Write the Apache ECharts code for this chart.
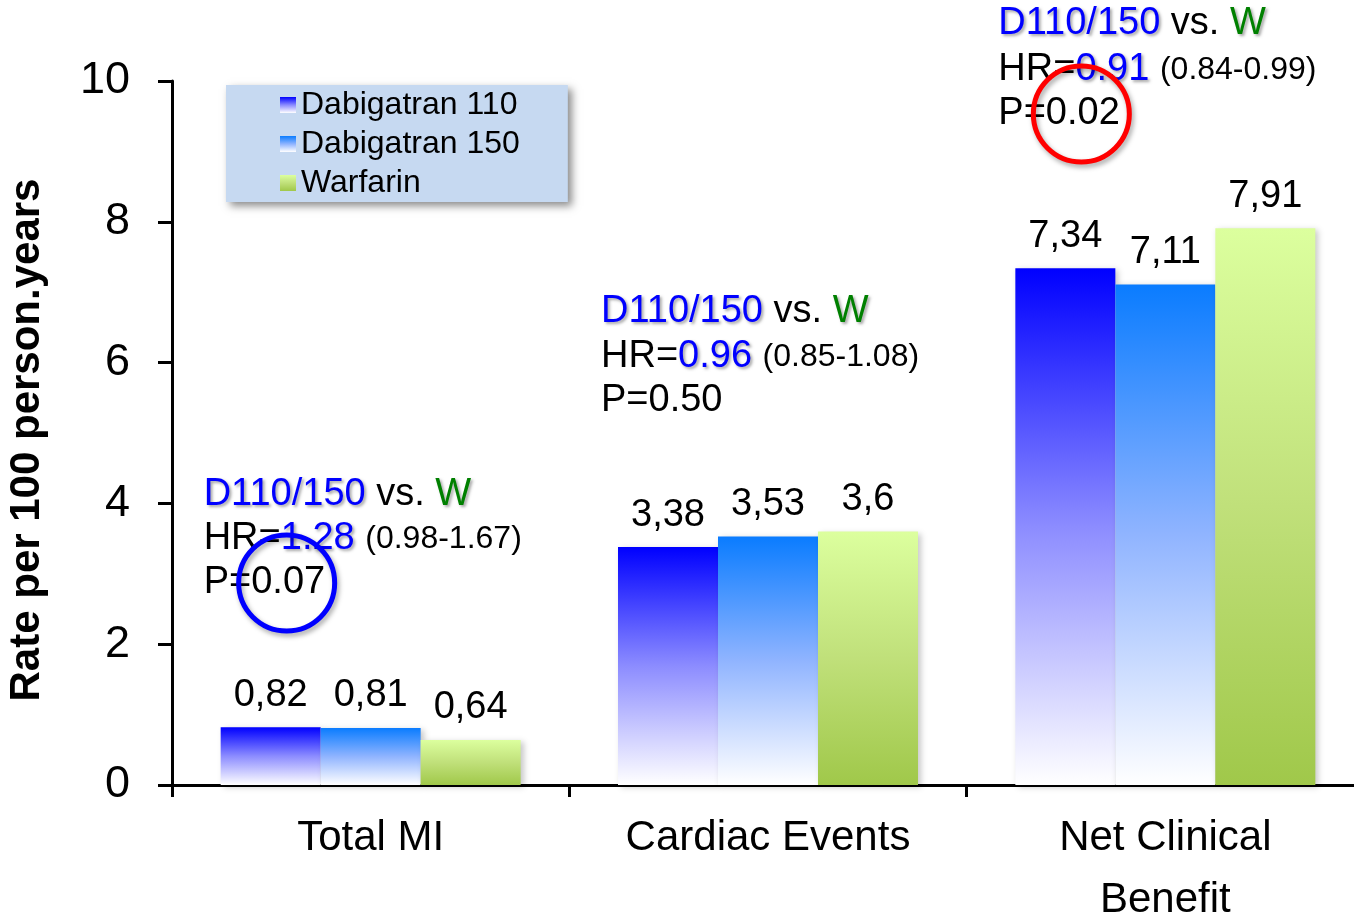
<!DOCTYPE html>
<html>
<head>
<meta charset="utf-8">
<script src="https://cdn.jsdelivr.net/npm/echarts@6/dist/echarts.min.js"></script>
<style>
html,body{margin:0;padding:0;background:#fff;}
#chart{width:1354px;height:917px;}
</style>
</head>
<body>
<div id="chart"></div>
<script>
// ---- data ----
const categories = ['Total MI', 'Cardiac Events', 'Net Clinical\nBenefit'];
const seriesNames = ['Dabigatran 110', 'Dabigatran 150', 'Warfarin'];
const dabigatran110 = [0.82, 3.38, 7.34];
const dabigatran150 = [0.81, 3.53, 7.11];
const warfarin = [0.64, 3.6, 7.91];
const yTicks = [0, 2, 4, 6, 8, 10];
const yAxisTitle = 'Rate per 100 person.years';
const comparisonLabel = ['D110/150', 'vs.', 'W'];
const hrValues = ['1.28', '0.96', '0.91'];
const ciValues = ['(0.98-1.67)', '(0.85-1.08)', '(0.84-0.99)'];
const pValues = ['0.07', '0.50', '0.02'];
const circledBlocks = [0, 2];

// ---- styling ----
const FONT = '"Liberation Sans", Arial, Helvetica, sans-serif';
function vgrad(top, mid, bottom) {
  return new echarts.graphic.LinearGradient(0, 0, 0, 1, [
    {offset: 0, color: top}, {offset: 0.5, color: mid}, {offset: 1, color: bottom}
  ]);
}
const fills = [
  vgrad('#0000ff', '#8c8cff', '#ffffff'),
  vgrad('#0a7cff', '#90b4ff', '#ffffff'),
  vgrad('#dcff9e', '#c0e07a', '#a0c84a')
];
const seriesData = [dabigatran110, dabigatran150, warfarin];

const chart = echarts.init(document.getElementById('chart'), null, {renderer: 'canvas'});

const labelFmt = p => String(p.value).replace('.', ',');

const option = {
  animation: false,
  backgroundColor: '#ffffff',
  textStyle: {fontFamily: FONT},
  grid: {left: 172, right: -10, top: 81, bottom: 132, containLabel: false, outerBoundsMode: 'none'},
  legend: {
    orient: 'vertical',
    left: 226, top: 85,
    data: seriesNames,
    selectedMode: false,
    icon: 'rect',
    itemWidth: 16, itemHeight: 16,
    itemGap: 7,
    padding: [4, 48, 3, 54],
    backgroundColor: '#c6d9f1',
    shadowColor: 'rgba(0,0,0,0.45)',
    shadowBlur: 8, shadowOffsetX: 4, shadowOffsetY: 4,
    textStyle: {fontFamily: FONT, fontSize: 32, color: '#000'}
  },
  xAxis: {
    type: 'category',
    data: categories,
    axisLine: {show: true, lineStyle: {color: '#000', width: 3}},
    axisTick: {show: true, length: 12, lineStyle: {color: '#000', width: 3}, alignWithLabel: false},
    axisLabel: {fontFamily: FONT, fontSize: 42, color: '#000', margin: 22, lineHeight: 62, interval: 0},
    splitLine: {show: false}
  },
  yAxis: {
    type: 'value',
    min: yTicks[0], max: yTicks[yTicks.length - 1], interval: yTicks[1] - yTicks[0],
    name: yAxisTitle,
    nameLocation: 'middle',
    nameGap: 124,
    nameTextStyle: {fontFamily: FONT, fontSize: 42, fontWeight: 'bold', color: '#000', padding: [0, 14, 0, 0]},
    axisLine: {show: true, lineStyle: {color: '#000', width: 3}},
    axisTick: {show: true, length: 14, lineStyle: {color: '#000', width: 3}},
    axisLabel: {fontFamily: FONT, fontSize: 45, color: '#000', margin: 42},
    splitLine: {show: false}
  },
  series: seriesNames.map((name, i) => ({
    name: name,
    type: 'bar',
    data: seriesData[i],
    barGap: '0%',
    barCategoryGap: '24.5%',
    itemStyle: {
      color: fills[i],
      shadowColor: 'rgba(0,0,0,0.22)',
      shadowBlur: 6, shadowOffsetX: 3, shadowOffsetY: 2
    },
    label: {
      show: true, position: 'top', distance: 13,
      formatter: labelFmt,
      fontFamily: FONT, fontSize: 38, color: '#000'
    },
    emphasis: {disabled: true}
  }))
};
chart.setOption(option);

// ---- annotations (anchored to category centres) ----
const lineY = [[495, 539, 583], [312, 357, 401], [24, 70, 114]];
const blueShadow = {textShadowColor: 'rgba(0,0,0,0.35)', textShadowBlur: 3, textShadowOffsetX: 2, textShadowOffsetY: 2};
const rich = {
  b: Object.assign({fill: '#0000ff', fontSize: 38, fontFamily: FONT}, blueShadow),
  k: {fill: '#000', fontSize: 38, fontFamily: FONT},
  g: Object.assign({fill: '#008000', fontSize: 38, fontFamily: FONT}, blueShadow),
  s: {fill: '#000', fontSize: 32, fontFamily: FONT}
};
const graphics = [];
categories.forEach((c, i) => {
  const cx = chart.convertToPixel({xAxisIndex: 0}, c);
  const left = cx - 167;
  const ys = lineY[i];
  graphics.push({
    type: 'text', x: left, y: ys[0], z: 100,
    style: {text: '{b|' + comparisonLabel[0] + '} {k|' + comparisonLabel[1] + '} {g|' + comparisonLabel[2] + '}',
            rich: rich, verticalAlign: 'middle', fontSize: 38, fontFamily: FONT}
  });
  graphics.push({
    type: 'text', x: left, y: ys[1], z: 100,
    style: {text: '{k|HR=}{b|' + hrValues[i] + '} {s|' + ciValues[i] + '}',
            rich: rich, verticalAlign: 'middle', fontSize: 38, fontFamily: FONT}
  });
  graphics.push({
    type: 'text', x: left, y: ys[2], z: 100,
    style: {text: '{k|P=' + pValues[i] + '}',
            rich: rich, verticalAlign: 'middle', fontSize: 38, fontFamily: FONT}
  });
});
const circleColors = {0: '#0000ff', 2: '#ff0000'};
circledBlocks.forEach(i => {
  const cx = chart.convertToPixel({xAxisIndex: 0}, categories[i]);
  graphics.push({
    type: 'circle', z: 110,
    shape: {cx: cx - 167 + 83, cy: lineY[i][2], r: 48},
    style: {fill: 'none', stroke: circleColors[i], lineWidth: 5,
            shadowColor: 'rgba(0,0,0,0.35)', shadowBlur: 5, shadowOffsetX: 2, shadowOffsetY: 3}
  });
});
chart.setOption({graphic: graphics});
</script>
</body>
</html>
